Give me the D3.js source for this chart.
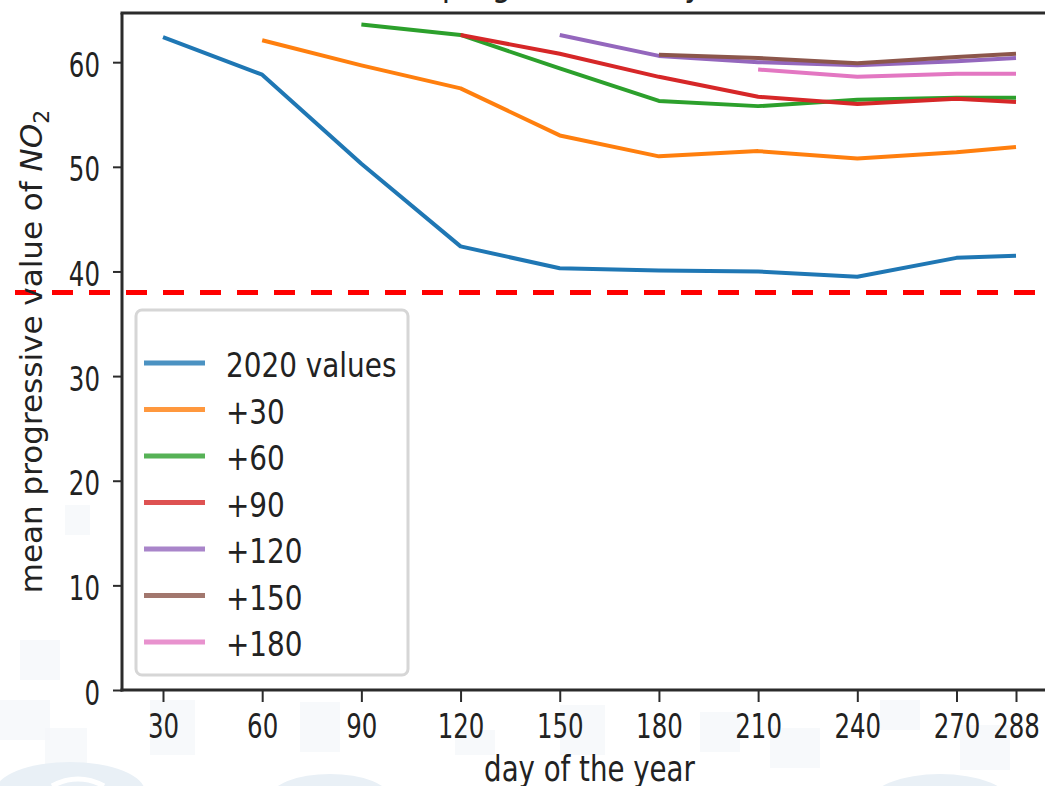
<!DOCTYPE html>
<html>
<head>
<meta charset="utf-8">
<script src="https://cdn.jsdelivr.net/npm/d3@7"></script>
<style>
  html, body { margin: 0; padding: 0; background: #fff; }
  svg { display: block; font-family: "DejaVu Sans", sans-serif; }
</style>
</head>
<body>
<div id="chart"></div>
<script>
// days on the x axis
var days = [30, 60, 90, 120, 150, 180, 210, 240, 270, 288];
var xTicks = [30, 60, 90, 120, 150, 180, 210, 240, 270, 288];
var yTicks = [0, 10, 20, 30, 40, 50, 60];
var limitValue = 38;

// each series starts at a later day (offset) and runs to day 288
var seriesNames = ["2020 values", "+30", "+60", "+90", "+120", "+150", "+180"];
var seriesStart = [30, 60, 90, 120, 150, 180, 210];
var values2020 = [62.4, 58.8, 50.3, 42.4, 40.3, 40.1, 40.0, 39.5, 41.3, 41.5];
var plus30 = [62.1, 59.7, 57.5, 53.0, 51.0, 51.5, 50.8, 51.4, 51.9];
var plus60 = [63.6, 62.6, 59.4, 56.3, 55.8, 56.4, 56.6, 56.6];
var plus90 = [62.6, 60.8, 58.6, 56.7, 56.0, 56.5, 56.2];
var plus120 = [62.6, 60.6, 60.0, 59.7, 60.1, 60.4];
var plus150 = [60.7, 60.4, 59.9, 60.5, 60.8];
var plus180 = [59.3, 58.6, 58.9, 58.9];
var seriesValues = [values2020, plus30, plus60, plus90, plus120, plus150, plus180];
var colors = ["#1f77b4", "#ff7f0e", "#2ca02c", "#d62728", "#9467bd", "#8c564b", "#e377c2"];

var W = 1045, H = 786;
var margin = {top: 13, left: 122, bottom: 96};

var svg = d3.select("#chart").append("svg")
  .attr("width", W)
  .attr("height", H);

// very faint watermark-ish background outside the axes
var bg = svg.append("g").attr("class", "bg");
[[0, 700, 50, 40], [45, 728, 42, 42], [150, 700, 45, 55], [300, 702, 40, 50], [455, 730, 40, 25],
 [560, 705, 45, 50], [700, 712, 40, 40], [770, 728, 50, 40], [880, 700, 40, 30], [960, 725, 50, 45],
 [20, 640, 40, 40], [65, 505, 25, 30]].forEach(function(r) {
  bg.append("rect").attr("x", r[0]).attr("y", r[1]).attr("width", r[2]).attr("height", r[3])
    .attr("fill", "#f3f6f9").attr("opacity", 0.7);
});
[[70, 792, 75, 30], [330, 798, 60, 24], [940, 802, 70, 28]].forEach(function(c) {
  bg.append("ellipse").attr("cx", c[0]).attr("cy", c[1]).attr("rx", c[2]).attr("ry", c[3])
    .attr("fill", "#e9f0f6");
});
bg.append("path").attr("d", "M 52 786 Q 78 772 104 786").attr("fill", "none")
  .attr("stroke", "#fff").attr("stroke-width", 5);

var x = d3.scaleLinear().domain([17.6, 300.4]).range([margin.left, margin.left + 935]);
var y = d3.scaleLinear().domain([0, 64.7]).range([H - margin.bottom, margin.top]);

// plot area
svg.append("rect")
  .attr("x", margin.left).attr("y", margin.top)
  .attr("width", x.range()[1] - margin.left)
  .attr("height", y.range()[0] - margin.top)
  .attr("fill", "#fff");

var line = d3.line()
  .x(function(d) { return x(d.day); })
  .y(function(d) { return y(d.value); });

var plot = svg.append("g").attr("class", "lines");
seriesValues.forEach(function(vals, i) {
  var start = days.indexOf(seriesStart[i]);
  var pts = vals.map(function(v, j) { return {day: days[start + j], value: v}; });
  plot.append("path")
    .datum(pts)
    .attr("d", line)
    .attr("fill", "none")
    .attr("stroke", colors[i])
    .attr("stroke-width", 4)
    .attr("stroke-linejoin", "round");
});

// red dashed limit line
svg.append("line")
  .attr("x1", 15).attr("x2", W)
  .attr("y1", y(limitValue)).attr("y2", y(limitValue))
  .attr("stroke", "#ff0000")
  .attr("stroke-width", 5)
  .attr("stroke-dasharray", "21,16");

// axes
var yAxis = svg.append("g")
  .attr("transform", "translate(" + margin.left + ",0)")
  .call(d3.axisLeft(y).tickValues(yTicks).tickSize(9).tickSizeOuter(0));
yAxis.selectAll(".tick text")
  .attr("x", null).attr("dy", null)
  .attr("transform", "translate(-22,14) scale(0.72,1)")
  .style("font-size", "34px");

var xAxis = svg.append("g")
  .attr("transform", "translate(0," + y(0) + ")")
  .call(d3.axisBottom(x).tickValues(xTicks).tickSize(12).tickSizeOuter(0));
xAxis.selectAll(".tick text")
  .attr("y", null).attr("dy", null)
  .attr("transform", "translate(0,48) scale(0.72,1)")
  .style("font-size", "34px");

svg.selectAll(".tick line").attr("stroke", "#2b2b2b").attr("stroke-width", 2);
svg.selectAll(".tick text").attr("fill", "#222").style("font-family", "DejaVu Sans, sans-serif");
svg.selectAll(".domain").remove();

// spines
var spine = svg.append("g").attr("stroke", "#2b2b2b").attr("stroke-width", 3);
spine.append("line").attr("x1", margin.left).attr("x2", margin.left)
  .attr("y1", margin.top).attr("y2", y(0) + 1.5);
spine.append("line").attr("x1", margin.left - 1.5).attr("x2", W)
  .attr("y1", y(0)).attr("y2", y(0));
spine.append("line").attr("x1", margin.left - 1.5).attr("x2", W)
  .attr("y1", margin.top).attr("y2", margin.top);

// axis labels
var xCenter = (margin.left + x.range()[1]) / 2;
svg.append("text")
  .attr("transform", "translate(" + xCenter + ",781) scale(0.79,1)")
  .attr("text-anchor", "middle")
  .attr("fill", "#222")
  .style("font-size", "35px")
  .text("day of the year");

var yl = svg.append("text")
  .attr("transform", "translate(42," + ((margin.top + y(0)) / 2) + ") rotate(-90)")
  .attr("text-anchor", "middle")
  .attr("fill", "#222")
  .style("font-size", "31px");
yl.append("tspan").text("mean progressive value of ");
yl.append("tspan").style("font-style", "italic").text("NO");
yl.append("tspan").attr("dy", 7).style("font-size", "22px").text("2");

// title, mostly cut off by the top of the picture (as in the reference)
svg.append("text")
  .attr("transform", "translate(" + (xCenter + 35) + ",-4) scale(0.85,1)")
  .attr("text-anchor", "middle")
  .attr("fill", "#222")
  .style("font-size", "36px")
  .text("mean progressive daily value of NO\u2082");

// legend
var legend = svg.append("g").attr("class", "legend");
legend.append("rect")
  .attr("x", 136).attr("y", 310).attr("width", 272).attr("height", 365)
  .attr("rx", 6)
  .attr("fill", "#fff").attr("fill-opacity", 0.85)
  .attr("stroke", "#d6d6d6").attr("stroke-width", 3);
seriesNames.forEach(function(name, i) {
  var ly = 363 + i * 46.5;
  legend.append("line")
    .attr("x1", 144).attr("x2", 205)
    .attr("y1", ly).attr("y2", ly)
    .attr("stroke", colors[i]).attr("stroke-width", 5).attr("opacity", 0.8);
  legend.append("text")
    .attr("transform", "translate(226," + (ly + 14) + ") scale(0.845,1)")
    .attr("fill", "#222")
    .style("font-size", "33px")
    .text(name);
});
</script>
</body>
</html>
